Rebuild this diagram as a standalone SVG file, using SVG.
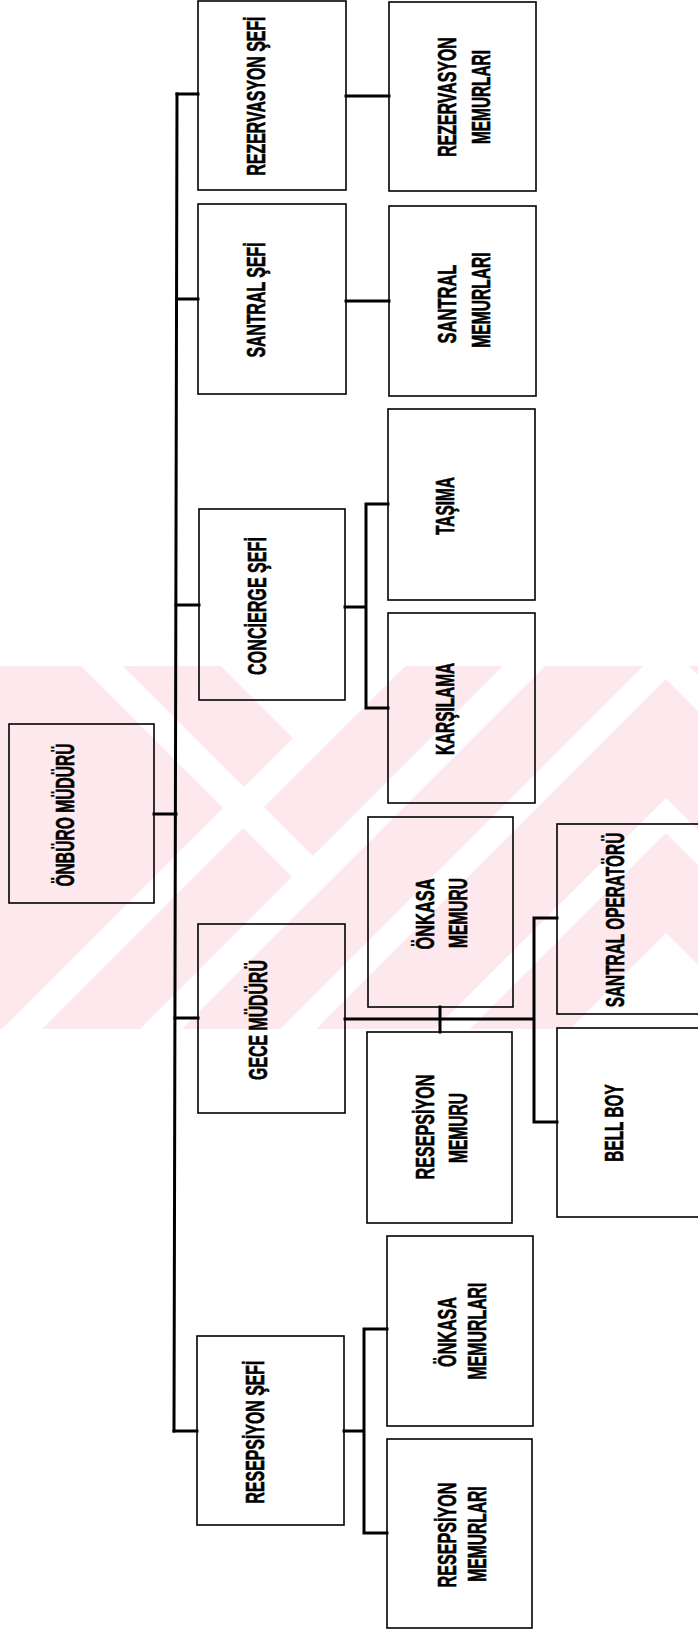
<svg xmlns="http://www.w3.org/2000/svg" width="698" height="1634" viewBox="0 0 698 1634">
<style>
.box{fill:none;stroke:#000;stroke-width:1.6}
.conn{fill:none;stroke:#000;stroke-width:3;stroke-linecap:square}
.lbl{font-family:"Liberation Sans",Arial,sans-serif;font-weight:bold;font-size:25px;fill:#000;stroke:#000;stroke-width:0.6;text-anchor:middle}
.wm{fill:#fde9ed}
.wg{fill:#fff}
</style>
<defs>
<clipPath id="band"><rect x="0" y="666" width="698" height="363"/></clipPath>
</defs>
<rect width="698" height="1634" fill="#fff"/>
<g id="watermark" clip-path="url(#band)">
<rect class="wm" x="0" y="666" width="698" height="363"/>
<polygon class="wg" points="221,666 405,666 313,758"/>
<polygon class="wg" points="81,666 123,666 313,856 503,666 545,666 313,898"/>
<polygon class="wg" points="570,1029 762,1029 666,933"/>
<polygon class="wg" points="435,1029 470,1029 666,833 862,1029 897,1029 666,798"/>
<polygon class="wg" points="280,1029 316,1029 666,679 1016,1029 1052,1029 666,643"/>
<polygon class="wg" points="140,1029 182,1029 666,545 1150,1029 1192,1029 666,503"/>
<polygon class="wg" points="2,1029 42,1029 666,405 1290,1029 1330,1029 666,365"/>
</g>
<g id="connectors">
<path class="conn" d="M177 94 L174 1431"/>
<path class="conn" d="M177 94 H198 M346 96 H389"/>
<path class="conn" d="M177 299 H198 M346 301 H389"/>
<path class="conn" d="M176 605 H199 M345 607 H366 M388 504 H366 V708 H388"/>
<path class="conn" d="M154 814 H176"/>
<path class="conn" d="M175 1018 H198 M345 1019 H534 M440 1007 V1032 M557 918 H534 V1122 H557"/>
<path class="conn" d="M174 1431 H197 M344 1431 H364 M387 1329 H364 V1533 H387"/>
</g>
<g id="rezervasyon_sefi"><rect class="box" x="198" y="1" width="148" height="189"/><text class="lbl" transform="translate(265 96) rotate(-90) scale(0.635 1)">REZERVASYON ŞEFİ</text></g>
<g id="rezervasyon_memurlari"><rect class="box" x="389" y="2" width="147" height="189"/><text class="lbl" transform="translate(456 97) rotate(-90) scale(0.635 1)">REZERVASYON</text><text class="lbl" transform="translate(490 97) rotate(-90) scale(0.615 1)">MEMURLARI</text></g>
<g id="santral_sefi"><rect class="box" x="198" y="204" width="148" height="190"/><text class="lbl" transform="translate(265 300) rotate(-90) scale(0.635 1)">SANTRAL ŞEFİ</text></g>
<g id="santral_memurlari"><rect class="box" x="389" y="206" width="147" height="190"/><text class="lbl" transform="translate(456 304) rotate(-90) scale(0.66 1)">SANTRAL</text><text class="lbl" transform="translate(490 300) rotate(-90) scale(0.625 1)">MEMURLARI</text></g>
<g id="concierge_sefi"><rect class="box" x="199" y="509" width="146" height="191"/><text class="lbl" transform="translate(266 606) rotate(-90) scale(0.645 1)">CONCİERGE ŞEFİ</text></g>
<g id="tasima"><rect class="box" x="388" y="409" width="147" height="191"/><text class="lbl" transform="translate(454 506) rotate(-90) scale(0.615 1)">TAŞIMA</text></g>
<g id="karsilama"><rect class="box" x="388" y="613" width="147" height="190"/><text class="lbl" transform="translate(454 709) rotate(-90) scale(0.615 1)">KARŞILAMA</text></g>
<g id="onburo_muduru"><rect class="box" x="9" y="724" width="145" height="179"/><text class="lbl" transform="translate(74 815) rotate(-90) scale(0.625 1)">ÖNBÜRO MÜDÜRÜ</text></g>
<g id="onkasa_memuru"><rect class="box" x="368" y="817" width="145" height="190"/><text class="lbl" transform="translate(434 914) rotate(-90) scale(0.655 1)">ÖNKASA</text><text class="lbl" transform="translate(467 913) rotate(-90) scale(0.625 1)">MEMURU</text></g>
<g id="santral_operatoru"><rect class="box" x="557" y="824" width="150" height="190"/><text class="lbl" transform="translate(624 920) rotate(-90) scale(0.615 1)">SANTRAL OPERATÖRÜ</text></g>
<g id="gece_muduru"><rect class="box" x="198" y="924" width="147" height="189"/><text class="lbl" transform="translate(267 1020) rotate(-90) scale(0.635 1)">GECE MÜDÜRÜ</text></g>
<g id="resepsiyon_memuru"><rect class="box" x="367" y="1032" width="145" height="191"/><text class="lbl" transform="translate(434 1127) rotate(-90) scale(0.645 1)">RESEPSİYON</text><text class="lbl" transform="translate(467 1128) rotate(-90) scale(0.625 1)">MEMURU</text></g>
<g id="bell_boy"><rect class="box" x="557" y="1028" width="150" height="189"/><text class="lbl" transform="translate(623 1123) rotate(-90) scale(0.615 1)">BELL BOY</text></g>
<g id="resepsiyon_sefi"><rect class="box" x="197" y="1336" width="147" height="189"/><text class="lbl" transform="translate(264 1432) rotate(-90) scale(0.635 1)">RESEPSİYON ŞEFİ</text></g>
<g id="onkasa_memurlari"><rect class="box" x="387" y="1236" width="146" height="190"/><text class="lbl" transform="translate(456 1332) rotate(-90) scale(0.645 1)">ÖNKASA</text><text class="lbl" transform="translate(486 1331) rotate(-90) scale(0.635 1)">MEMURLARI</text></g>
<g id="resepsiyon_memurlari"><rect class="box" x="387" y="1439" width="145" height="189"/><text class="lbl" transform="translate(456 1535) rotate(-90) scale(0.645 1)">RESEPSİYON</text><text class="lbl" transform="translate(486 1534) rotate(-90) scale(0.625 1)">MEMURLARI</text></g>
</svg>
